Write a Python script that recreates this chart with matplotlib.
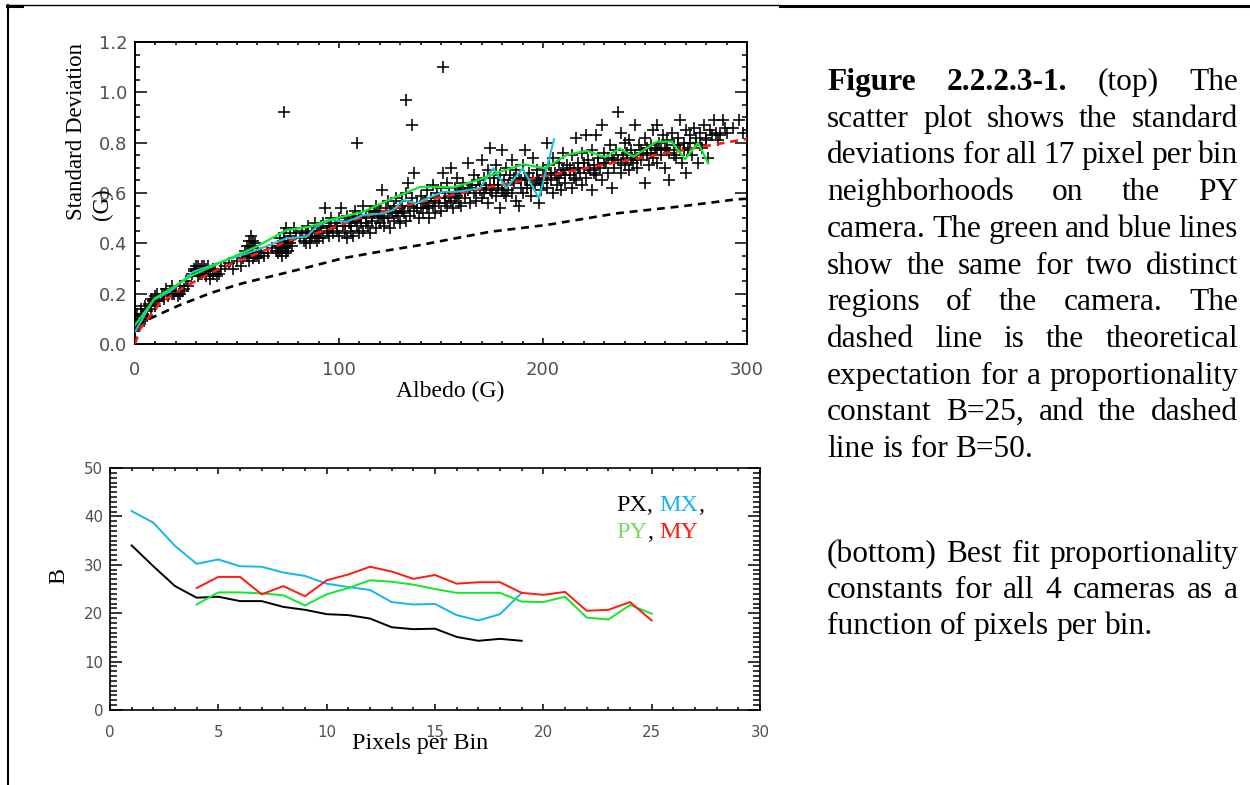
import matplotlib
matplotlib.use("Agg")
import numpy as np
import matplotlib.pyplot as plt
from matplotlib.lines import Line2D
from matplotlib.ticker import MultipleLocator, FormatStrFormatter

SERIF = "Liberation Serif"
SANS = "DejaVu Sans"
W_PX, H_PX = 1250, 785

# ---- top panel: standard deviation vs albedo (PY camera) ----
scatter_pts = [
    (0, 0.06), (0, 0.09), (0, 0.11), (1, 0.08), (1, 0.12), (2, 0.07), (2, 0.1), (3, 0.11), (3, 0.14),
    (4, 0.12), (5, 0.1), (5, 0.15), (6, 0.13), (7, 0.16), (8, 0.14), (8, 0.18), (9, 0.17), (10, 0.15),
    (10, 0.19), (11, 0.2), (12, 0.17), (13, 0.2), (14, 0.18), (15, 0.22), (16, 0.19), (17, 0.21),
    (18, 0.23), (19, 0.2), (20, 0.21), (21, 0.19), (22, 0.23), (23, 0.21), (24, 0.22), (25, 0.25), (26, 0.23),
    (4, 0.1), (6, 0.11), (11, 0.17), (14, 0.2), (18, 0.2), (22, 0.2),
    (28, 0.28), (29, 0.3), (30, 0.29), (30, 0.31), (31, 0.27), (32, 0.3), (33, 0.28), (33, 0.31), (34, 0.29),
    (35, 0.3), (35, 0.27), (36, 0.31), (37, 0.28), (37, 0.26), (38, 0.3), (39, 0.29), (40, 0.27), (41, 0.28),
    (29, 0.29), (31, 0.31), (32, 0.28), (34, 0.31), (36, 0.29), (38, 0.28),
    (42, 0.3), (44, 0.31), (46, 0.32), (48, 0.3), (50, 0.33), (52, 0.31),
    (53, 0.34), (54, 0.37), (55, 0.35), (55, 0.39), (56, 0.33), (56, 0.41), (57, 0.36), (57, 0.43), (58, 0.38),
    (58, 0.34), (59, 0.4), (59, 0.35), (60, 0.37), (61, 0.34), (62, 0.36), (63, 0.35), (65, 0.36), (67, 0.38),
    (56, 0.36), (57, 0.39), (58, 0.41), (60, 0.35),
    (69, 0.37), (70, 0.39), (70, 0.36), (71, 0.42), (71, 0.37), (72, 0.35), (72, 0.4), (73, 0.44), (73, 0.38),
    (74, 0.36), (74, 0.46), (75, 0.41), (75, 0.37), (76, 0.43), (77, 0.39), (78, 0.46), (79, 0.44), (73, 0.92),
    (71, 0.39), (72, 0.38), (73, 0.41), (74, 0.39), (76, 0.4),
    (81, 0.42), (82, 0.45), (83, 0.41), (84, 0.4), (84, 0.44), (85, 0.47), (86, 0.42), (86, 0.4), (87, 0.45),
    (88, 0.43), (88, 0.48), (89, 0.41), (90, 0.46), (91, 0.44), (92, 0.48), (92, 0.42), (93, 0.54), (94, 0.45),
    (85, 0.44), (87, 0.43), (89, 0.45), (90, 0.42), (91, 0.47),
    (95, 0.47), (95, 0.43), (96, 0.5), (97, 0.44), (98, 0.48), (99, 0.45), (100, 0.5), (100, 0.43), (101, 0.54),
    (102, 0.47), (103, 0.44), (104, 0.42), (104, 0.51), (105, 0.48), (106, 0.45), (107, 0.5), (107, 0.43),
    (108, 0.53), (109, 0.47), (110, 0.44), (110, 0.51), (111, 0.48), (112, 0.55), (112, 0.45), (113, 0.5),
    (114, 0.47), (115, 0.53), (115, 0.44), (116, 0.49), (117, 0.52), (118, 0.46), (118, 0.55), (119, 0.5),
    (120, 0.48), (120, 0.53), (109, 0.8),
    (121, 0.51), (121, 0.61), (122, 0.47), (123, 0.54), (124, 0.5), (124, 0.57), (125, 0.46), (126, 0.52),
    (127, 0.55), (127, 0.49), (128, 0.58), (129, 0.51), (130, 0.54), (130, 0.48), (131, 0.57), (132, 0.52),
    (133, 0.6), (133, 0.49), (134, 0.55), (134, 0.64), (135, 0.51), (136, 0.58), (137, 0.53), (137, 0.68),
    (138, 0.56), (139, 0.5), (140, 0.59), (140, 0.54), (133, 0.97), (136, 0.87), (151, 1.1),
    (141, 0.52), (142, 0.57), (143, 0.61), (143, 0.54), (144, 0.5), (145, 0.58), (146, 0.55), (146, 0.63),
    (147, 0.52), (148, 0.6), (149, 0.56), (150, 0.62), (150, 0.53), (151, 0.68), (152, 0.58), (153, 0.55),
    (153, 0.64), (154, 0.6), (155, 0.7), (155, 0.57), (156, 0.54), (157, 0.62), (158, 0.59), (158, 0.66),
    (159, 0.56), (160, 0.61), (160, 0.55),
    (161, 0.64), (162, 0.58), (163, 0.72), (163, 0.61), (164, 0.56), (165, 0.63), (166, 0.6), (166, 0.67),
    (167, 0.57), (168, 0.65), (169, 0.61), (170, 0.73), (170, 0.58), (171, 0.66), (172, 0.62), (173, 0.56),
    (173, 0.69), (174, 0.78), (174, 0.63), (175, 0.6), (176, 0.66), (177, 0.59), (177, 0.71), (178, 0.63),
    (179, 0.54), (179, 0.67), (180, 0.61), (180, 0.77),
    (181, 0.65), (182, 0.59), (182, 0.7), (183, 0.63), (184, 0.67), (185, 0.6), (185, 0.73), (186, 0.64),
    (187, 0.57), (187, 0.69), (188, 0.55), (188, 0.66), (189, 0.62), (190, 0.71), (190, 0.6), (191, 0.77),
    (191, 0.65), (192, 0.62), (193, 0.68), (194, 0.59), (195, 0.66), (195, 0.74), (196, 0.63), (197, 0.69),
    (198, 0.56), (198, 0.65), (199, 0.61), (200, 0.7), (200, 0.64),
    (201, 0.67), (202, 0.8), (202, 0.62), (203, 0.71), (204, 0.65), (205, 0.6), (205, 0.74), (206, 0.68),
    (207, 0.63), (208, 0.72), (208, 0.66), (209, 0.61), (210, 0.76), (210, 0.69), (211, 0.64), (212, 0.71),
    (213, 0.67), (214, 0.62), (214, 0.75), (215, 0.69), (216, 0.82), (216, 0.65), (217, 0.72), (218, 0.68),
    (219, 0.63), (219, 0.76), (220, 0.7), (221, 0.83),
    (221, 0.66), (222, 0.73), (223, 0.69), (224, 0.61), (224, 0.77), (225, 0.71), (226, 0.83), (226, 0.67),
    (227, 0.74), (228, 0.7), (229, 0.87), (229, 0.65), (230, 0.76), (231, 0.72), (232, 0.68), (233, 0.79),
    (234, 0.62), (234, 0.74), (235, 0.7), (236, 0.77), (237, 0.92), (237, 0.73), (238, 0.84), (238, 0.68),
    (239, 0.75), (240, 0.71), (240, 0.8),
    (241, 0.74), (242, 0.69), (242, 0.81), (243, 0.77), (244, 0.72), (245, 0.87), (245, 0.75), (246, 0.7),
    (247, 0.79), (248, 0.73), (249, 0.76), (250, 0.64), (250, 0.82), (251, 0.75), (252, 0.71), (253, 0.79),
    (254, 0.85), (254, 0.74), (255, 0.77), (256, 0.87), (256, 0.72), (257, 0.8), (258, 0.75), (259, 0.83),
    (260, 0.7), (260, 0.78),
    (261, 0.81), (262, 0.65), (262, 0.76), (263, 0.84), (264, 0.79), (265, 0.74), (266, 0.82), (267, 0.89),
    (267, 0.77), (268, 0.72), (269, 0.8), (270, 0.68), (270, 0.85), (271, 0.78), (272, 0.83), (273, 0.75),
    (274, 0.86), (275, 0.8), (276, 0.72), (277, 0.84), (278, 0.78), (279, 0.87), (280, 0.82), (281, 0.74),
    (282, 0.85), (284, 0.89), (285, 0.84), (286, 0.81), (288, 0.89), (289, 0.86), (296, 0.89), (298, 0.84),
]

# denser core of the band, close to the B=25 curve
scatter_core = [
    (96, 0.46), (99, 0.47), (103, 0.49), (106, 0.47), (108, 0.49), (111, 0.5), (113, 0.48), (116, 0.51),
    (119, 0.52), (122, 0.5), (125, 0.53), (128, 0.52), (131, 0.53), (135, 0.55), (138, 0.54), (141, 0.56),
    (144, 0.55), (147, 0.57), (149, 0.58), (152, 0.56), (154, 0.59), (157, 0.58), (159, 0.6), (162, 0.6),
    (164, 0.62), (167, 0.61), (169, 0.63), (171, 0.6), (174, 0.61), (176, 0.63), (178, 0.62), (181, 0.6),
    (183, 0.61), (186, 0.66), (189, 0.65), (192, 0.66), (194, 0.63), (197, 0.66), (199, 0.64), (202, 0.66),
    (204, 0.68), (207, 0.67), (209, 0.68), (211, 0.67), (213, 0.7), (215, 0.66), (217, 0.7), (220, 0.72),
    (222, 0.7), (225, 0.68), (227, 0.71), (230, 0.72), (232, 0.74), (235, 0.73), (238, 0.72), (241, 0.76),
    (243, 0.73), (246, 0.74), (248, 0.77), (251, 0.78), (253, 0.76), (256, 0.78), (258, 0.77), (261, 0.77),
    (264, 0.75), (266, 0.79), (269, 0.77), (272, 0.8), (275, 0.82), (277, 0.79), (280, 0.81), (283, 0.83),
    (287, 0.83), (290, 0.84), (293, 0.86),
]

green_x = [0, 9.8, 28.4, 46.6, 59.6, 74.3, 85.8, 94, 112, 128, 139.7, 148.5, 156, 168.3, 179, 190.4,
           201, 211.6, 221.4, 230.4, 237.7, 244.3, 255.7, 263, 269.6, 276, 281]
green_y = [0.075, 0.182, 0.274, 0.341, 0.387, 0.453, 0.466, 0.49, 0.526, 0.585, 0.624, 0.624, 0.622,
           0.652, 0.685, 0.714, 0.698, 0.751, 0.768, 0.742, 0.777, 0.744, 0.804, 0.804, 0.734, 0.80, 0.718]

cyan_x = [0, 9, 17, 28.6, 45, 59.6, 74.3, 84, 89, 95.6, 103.8, 112, 121.7, 126.6, 131.5, 138, 144.6,
          151, 157.7, 169, 175.6, 182, 190, 198, 201.8, 205.4]
cyan_y = [0.049, 0.175, 0.208, 0.287, 0.334, 0.373, 0.42, 0.426, 0.466, 0.493, 0.486, 0.513, 0.519,
          0.532, 0.572, 0.559, 0.583, 0.605, 0.605, 0.619, 0.698, 0.619, 0.698, 0.579, 0.698, 0.813]

b25_x = [0, 2.5, 12.3, 24.5, 40, 56, 74, 94, 112, 130, 148.5, 175, 200, 225, 250, 275, 300]
b25_y = [0.0, 0.06, 0.163, 0.228, 0.294, 0.347, 0.406, 0.453, 0.506, 0.545, 0.58, 0.625, 0.665, 0.705,
         0.743, 0.78, 0.815]

b50_x = [1, 7, 22, 37.6, 53, 69.4, 85.8, 102, 120, 139.7, 148, 174, 201.8, 236, 268.8, 295, 300]
b50_y = [0.075, 0.1, 0.155, 0.204, 0.242, 0.274, 0.307, 0.341, 0.367, 0.393, 0.406, 0.446, 0.473,
         0.519, 0.548, 0.575, 0.577]

# ---- bottom panel: best fit B vs pixels per bin ----
px_x = list(range(1, 20))
px_b = [34.0, 29.7, 25.6, 23.2, 23.4, 22.5, 22.5, 21.3, 20.7, 19.8, 19.6, 18.9, 17.1, 16.7, 16.8,
        15.1, 14.3, 14.7, 14.3]
mx_x = list(range(1, 20))
mx_b = [41.1, 38.7, 33.9, 30.2, 31.1, 29.7, 29.6, 28.4, 27.7, 26.1, 25.4, 24.8, 22.3, 21.8, 21.9,
        19.6, 18.5, 19.8, 24.2]
py_x = list(range(4, 26))
py_b = [21.8, 24.3, 24.3, 24.1, 23.7, 21.6, 23.9, 25.2, 26.8, 26.5, 25.9, 25.0, 24.2, 24.2, 24.2,
        22.4, 22.3, 23.4, 19.1, 18.7, 21.7, 19.9]
my_x = list(range(4, 26))
my_b = [25.2, 27.5, 27.5, 23.9, 25.6, 23.5, 26.8, 28.0, 29.6, 28.6, 27.1, 27.9, 26.1, 26.4, 26.4,
        24.2, 23.8, 24.4, 20.5, 20.7, 22.3, 18.5]

caption_top = [
    "Figure 2.2.2.3-1. (top) The",
    "scatter plot shows the standard",
    "deviations for all 17 pixel per bin",
    "neighborhoods on the PY",
    "camera. The green and blue lines",
    "show the same for two distinct",
    "regions of the camera. The",
    "dashed line is the theoretical",
    "expectation for a proportionality",
    "constant B=25, and the dashed",
    "line is for B=50.",
]
caption_bottom = [
    "(bottom) Best fit proportionality",
    "constants for all 4 cameras as a",
    "function of pixels per bin.",
]

C_BLUE = "#12b6ee"
C_GREEN = "#10e82a"
C_RED = "#ff1a10"
C_CYAN = "#1ec3d6"
TICK_C = "#505050"


def fx(px):
    return px / W_PX


def fy(py):
    return 1 - py / H_PX


def style_axes(ax, xmaj, xmin, ymaj, ymin, ylen, xlen, size, xpad, ypad, lw):
    ax.xaxis.set_major_locator(MultipleLocator(xmaj))
    ax.xaxis.set_minor_locator(MultipleLocator(xmin))
    ax.yaxis.set_major_locator(MultipleLocator(ymaj))
    ax.yaxis.set_minor_locator(MultipleLocator(ymin))
    ax.tick_params(which="both", direction="in", top=True, right=True, color="black",
                   width=1.1, labelsize=size, labelcolor=TICK_C)
    ax.tick_params(axis="y", which="major", length=ylen[0], pad=ypad)
    ax.tick_params(axis="y", which="minor", length=ylen[1])
    ax.tick_params(axis="x", which="major", length=xlen[0], pad=xpad)
    ax.tick_params(axis="x", which="minor", length=xlen[1])
    for s in ax.spines.values():
        s.set_linewidth(lw)
    for lab in ax.get_xticklabels() + ax.get_yticklabels():
        lab.set_family(SANS)


def place_words(fig, renderer, words, x_left, y_base, size, x_right=None, colors=None,
                bold_n=0, gaps=None):
    """Place words on one baseline; justify them when x_right is given."""
    texts = []
    for i, w in enumerate(words):
        t = fig.text(0, fy(y_base), w, fontsize=size, family=SERIF, va="baseline", ha="left",
                     weight="bold" if i < bold_n else "normal",
                     color=colors[i] if colors else "black")
        texts.append(t)
    widths = [t.get_window_extent(renderer).width for t in texts]
    space = 0.25 * size * fig.dpi / 72
    if gaps is None:
        if x_right is None or len(words) < 2:
            gaps = [space] * len(words)
        else:
            g = (x_right - x_left - sum(widths)) / (len(words) - 1)
            gaps = [g] * len(words)
    else:
        gaps = [g * space for g in gaps] + [0]
    x = x_left
    for t, w, g in zip(texts, widths, gaps):
        t.set_x(fx(x))
        x += w + g


fig = plt.figure(figsize=(W_PX / 100, H_PX / 100), dpi=100)
renderer = fig.canvas.get_renderer()

# Top panel
ax1 = fig.add_axes([fx(135), fy(344), fx(747 - 135), (344 - 42) / H_PX])
pts = np.array(scatter_pts + scatter_core)
ax1.plot(pts[:, 0], pts[:, 1], "+", color="black", ms=8, mew=1.15, zorder=2)
ax1.plot(b50_x, b50_y, color="black", lw=1.9, dashes=(3, 2.2), zorder=3)
ax1.plot(b25_x, b25_y, color=C_RED, lw=1.9, dashes=(3, 2.2), zorder=4)
ax1.plot(cyan_x, cyan_y, color=C_CYAN, lw=1.5, zorder=5)
ax1.plot(green_x, green_y, color=C_GREEN, lw=1.6, zorder=6)
ax1.set_xlim(0, 300)
ax1.set_ylim(0, 1.2)
style_axes(ax1, 100, 10, 0.2, 0.05, (8.6, 3.8), (4.3, 2.2), 13, 12.5, 5.5, 1.4)
ax1.yaxis.set_major_formatter(FormatStrFormatter("%.1f"))
ax1.set_xlabel("Albedo (G)", fontsize=17, family=SERIF)
ax1.xaxis.set_label_coords((450 - 135) / 612, (344 - 381) / 302)
ax1.set_ylabel("Standard Deviation\n(G)", fontsize=16.5, family=SERIF,
               multialignment="left", linespacing=1.3)
ax1.yaxis.set_label_coords((113 - 135) / 612, (344 - 131) / 302)

# Bottom panel
ax2 = fig.add_axes([fx(110), fy(710), fx(760 - 110), (710 - 468) / H_PX])
ax2.plot(px_x, px_b, color="black", lw=1.4)
ax2.plot(mx_x, mx_b, color=C_BLUE, lw=1.4)
ax2.plot(py_x, py_b, color=C_GREEN, lw=1.4)
ax2.plot(my_x, my_b, color=C_RED, lw=1.4)
ax2.set_xlim(0, 30)
ax2.set_ylim(0, 50)
style_axes(ax2, 5, 1, 10, 1, (8.6, 5.0), (4.3, 2.2), 10.8, 10.5, 5, 1.2)
ax2.set_xlabel("Pixels per Bin", fontsize=17.3, family=SERIF)
ax2.xaxis.set_label_coords((420 - 110) / 650, (710 - 733) / 242)
ax2.set_ylabel("B", fontsize=17.3, family=SERIF)
ax2.yaxis.set_label_coords((69 - 110) / 650, (710 - 576) / 242)

fig.canvas.draw()
ylabs = ax1.get_yticklabels()
ylabs[0].set_va("bottom")
ylabs[-1].set_va("top")
ylabs2 = ax2.get_yticklabels()
ylabs2[0].set_va("bottom")
ylabs2[-1].set_va("top")

# Camera key in the bottom panel
place_words(fig, renderer, ["PX,", "MX", ","], 616, 511, 17.4,
            colors=["black", C_BLUE, "black"], gaps=[1, 0])
place_words(fig, renderer, ["PY", ",", "MY"], 616, 538, 17.4,
            colors=["#7ed957", "black", C_RED], gaps=[0, 1])

# Caption, justified like the page
for i, line in enumerate(caption_top):
    words = line.split()
    last = i == len(caption_top) - 1
    place_words(fig, renderer, words, 827, 90 + i * 36.7, 22.6,
                x_right=None if last else 1238, bold_n=2 if i == 0 else 0)
for i, line in enumerate(caption_bottom):
    words = line.split()
    last = i == len(caption_bottom) - 1
    place_words(fig, renderer, words, 827, 562 + i * 36, 22.6, x_right=None if last else 1238)

# Page frame lines
fig.add_artist(Line2D([fx(7), fx(780)], [fy(5), fy(5)], color="black", lw=1.0))
fig.add_artist(Line2D([fx(780), fx(1250)], [fy(5.5), fy(5.5)], color="black", lw=2.2))
fig.add_artist(Line2D([fx(7.5), fx(7.5)], [fy(5), fy(785)], color="black", lw=1.5))
fig.add_artist(Line2D([fx(7), fx(22)], [fy(5.5), fy(5.5)], color="black", lw=2.2))

fig.savefig("out.png", dpi=100)
